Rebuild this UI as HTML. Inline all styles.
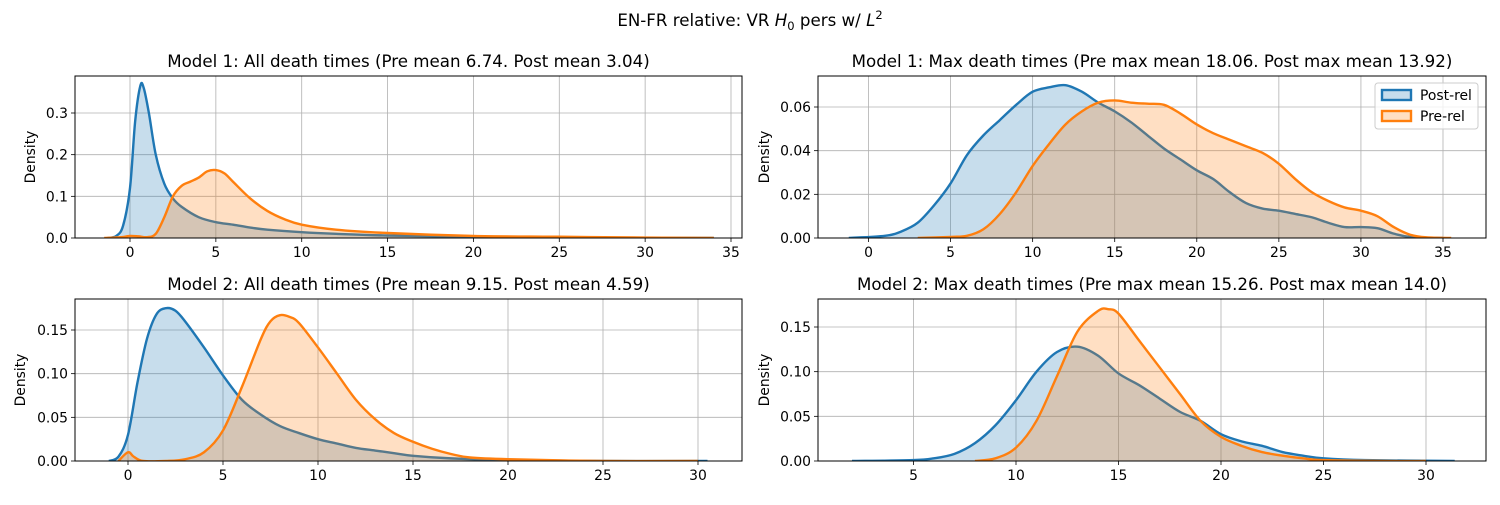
<!DOCTYPE html>
<html><head><meta charset="utf-8"><style>
body{margin:0;background:#fff;}
svg text{font-family:"DejaVu Sans","Liberation Sans",sans-serif;fill:#000;}
</style></head><body>
<svg id="fig" width="1500" height="500" xmlns="http://www.w3.org/2000/svg">
<rect width="1500" height="500" fill="#fff"/>
<text x="750" y="26" font-size="16.67" text-anchor="middle">EN-FR relative: VR <tspan font-style="italic">H</tspan><tspan font-size="11.5" dy="4">0</tspan><tspan dy="-4"> pers w/ </tspan><tspan font-style="italic">L</tspan><tspan font-size="11.5" dy="-7">2</tspan></text>
</svg>
<script>
// Panel 1: Model 1 all death times
const p1PostX=[-1.3,-0.8,-0.4,0,0.3,0.6,0.8,1.1,1.5,2,2.5,3,4,5,6,7,8,10,12,15,20,25,34];
const p1PostY=[0,0.005,0.03,0.12,0.28,0.365,0.36,0.3,0.2,0.13,0.095,0.075,0.05,0.038,0.032,0.025,0.02,0.014,0.01,0.006,0.003,0.001,0];
const p1PreX=[-1.5,-0.5,0,0.5,1,1.5,2,2.5,3,3.5,4,4.5,5,5.5,6,7,8,9,10,12,15,20,25,30,34];
const p1PreY=[0,0.002,0.005,0.004,0.002,0.01,0.05,0.1,0.125,0.135,0.145,0.16,0.163,0.155,0.135,0.095,0.065,0.045,0.032,0.02,0.012,0.005,0.003,0.001,0];
// Panel 2: Model 1 max death times
const p2PostX=[-1.2,1,2,3,4,5,6,7,8,9,10,11,12,13,14,15,16,17,18,19,20,21,22,23,24,25,26,27,28,29,30,31,32,33,35];
const p2PostY=[0,0.001,0.003,0.007,0.015,0.025,0.038,0.047,0.054,0.061,0.067,0.069,0.07,0.067,0.062,0.058,0.053,0.047,0.041,0.036,0.031,0.027,0.021,0.016,0.0135,0.0125,0.011,0.0095,0.007,0.005,0.005,0.0045,0.002,0.0005,0];
const p2PreX=[3,5,6,7,8,9,10,11,12,13,14,15,16,17,18,19,20,21,22,23,24,25,26,27,28,29,30,31,32,33,34,35.5];
const p2PreY=[0,0.0005,0.001,0.004,0.011,0.021,0.033,0.043,0.052,0.058,0.062,0.063,0.062,0.0615,0.061,0.057,0.052,0.048,0.045,0.042,0.039,0.034,0.027,0.021,0.017,0.014,0.0125,0.01,0.005,0.0015,0.0003,0];
// Panel 3: Model 2 all death times
const p3PostX=[-1,-0.5,0,0.5,1,1.5,2,2.5,3,4,5,6,7,8,9,10,11,12,13,14,15,17,20,25,30.5];
const p3PostY=[0,0.005,0.03,0.09,0.14,0.168,0.175,0.172,0.16,0.13,0.098,0.07,0.053,0.04,0.032,0.025,0.02,0.015,0.012,0.009,0.006,0.003,0.001,0,0];
const p3PreX=[-0.5,0,0.3,0.8,2,3,4,5,6,7,7.5,8,8.5,9,10,11,12,13,14,15,16,17,18,20,25,30];
const p3PreY=[0,0.01,0.005,0,0,0.002,0.01,0.035,0.085,0.14,0.16,0.167,0.165,0.158,0.13,0.1,0.07,0.048,0.032,0.022,0.014,0.008,0.004,0.002,0,0];
// Panel 4: Model 2 max death times
const p4PostX=[2,5,6,7,8,9,10,11,12,13,14,15,16,17,18,19,20,21,22,23,24,25,27,31.4];
const p4PostY=[0,0.001,0.003,0.008,0.02,0.04,0.068,0.1,0.122,0.128,0.118,0.098,0.085,0.07,0.055,0.045,0.03,0.022,0.017,0.01,0.006,0.003,0.001,0];
const p4PreX=[8,9,10,11,12,13,14,14.5,15,16,17,18,19,20,21,22,23,24,25,28,30];
const p4PreY=[0,0.003,0.015,0.045,0.095,0.145,0.168,0.17,0.165,0.135,0.105,0.075,0.045,0.027,0.017,0.01,0.006,0.003,0.001,0,0];

const p1XTicks=[0,5,10,15,20,25,30,35], p1YTicks=[0,0.1,0.2,0.3], p1YLabels=["0.0","0.1","0.2","0.3"];
const p2XTicks=[0,5,10,15,20,25,30,35], p2YTicks=[0,0.02,0.04,0.06], p2YLabels=["0.00","0.02","0.04","0.06"];
const p3XTicks=[0,5,10,15,20,25,30], p3YTicks=[0,0.05,0.1,0.15], p3YLabels=["0.00","0.05","0.10","0.15"];
const p4XTicks=[5,10,15,20,25,30], p4YTicks=[0,0.05,0.1,0.15], p4YLabels=["0.00","0.05","0.10","0.15"];

const NS="http://www.w3.org/2000/svg";
const svg=document.getElementById('fig');
function mk(tag,attrs,parent){const e=document.createElementNS(NS,tag);for(const k in attrs)e.setAttribute(k,attrs[k]);(parent||svg).appendChild(e);return e;}
function crPath(pts){let d=`M${pts[0][0]},${pts[0][1]}`;for(let i=0;i<pts.length-1;i++){const p0=pts[Math.max(0,i-1)],p1=pts[i],p2=pts[i+1],p3=pts[Math.min(pts.length-1,i+2)];
const c1=[p1[0]+(p2[0]-p0[0])/6,p1[1]+(p2[1]-p0[1])/6],c2=[p2[0]-(p3[0]-p1[0])/6,p2[1]-(p3[1]-p1[1])/6];
d+=` C${c1[0]},${c1[1]} ${c2[0]},${c2[1]} ${p2[0]},${p2[1]}`;}return d;}

function panel(o){
  const g=mk('g',{});
  
  
  const X=v=>o.x0px+(v-o.x0v)*(o.x1px-o.x0px)/(o.x1v-o.x0v);
  const Y=v=>o.bottom-v*(o.bottom-o.ytop)/o.yvtop;
  const L=o.left,R=o.right,T=o.top,B=o.bottom;
  const grid=mk('g',{},g);
  
  
  o.xt.forEach(v=>{mk('line',{x1:X(v),x2:X(v),y1:T,y2:B,stroke:'#b0b0b0','stroke-width':0.8},grid);
    const t=mk('text',{x:X(v),y:B+19,'font-size':13.9,'text-anchor':'middle'},g);t.textContent=v;
    
    
    mk('line',{x1:X(v),x2:X(v),y1:B,y2:B+4,stroke:'#000','stroke-width':0.8},g);});
  o.yt.forEach((v,i)=>{mk('line',{x1:L,x2:R,y1:Y(v),y2:Y(v),stroke:'#b0b0b0','stroke-width':0.8},grid);
    const t=mk('text',{x:L-7,y:Y(v)+5,'font-size':13.9,'text-anchor':'end'},g);t.textContent=o.yl[i];
    
    
    mk('line',{x1:L-4,x2:L,y1:Y(v),y2:Y(v),stroke:'#000','stroke-width':0.8},g);});
  const cp='clip'+o.name;
  const defs=mk('defs',{},g);mk('rect',{x:L,y:T,width:R-L,height:B-T},mk('clipPath',{id:cp},defs));
  const series=[[o.postX,o.postY,'#1f77b4','post-rel'],[o.preX,o.preY,'#ff7f0e','pre-rel']];
  series.forEach(([xs,ys,c,n])=>{
    const pts=xs.map((x,i)=>[X(x),Y(ys[i])]);
    const d=crPath(pts);
    const f=mk('path',{d:d+` L${pts[pts.length-1][0]},${Y(0)} L${pts[0][0]},${Y(0)} Z`,fill:c,'fill-opacity':0.25,'clip-path':`url(#${cp})`},g);
    
    
    const l=mk('path',{d:d,fill:'none',stroke:c,'stroke-width':2.4,'clip-path':`url(#${cp})`},g);
    
    
  });
  mk('rect',{x:L,y:T,width:R-L,height:B-T,fill:'none',stroke:'#000','stroke-width':1},g);
  const tt=mk('text',{x:(L+R)/2,y:T-9,'font-size':16.67,'text-anchor':'middle'},g);tt.textContent=o.title;
  
  
  const yl=mk('text',{x:0,y:0,'font-size':13.9,'text-anchor':'middle',transform:`translate(${o.ylx},${(T+B)/2}) rotate(-90)`},g);yl.textContent='Density';
  
  
}
panel({name:'model1-all',left:75,right:742,top:76,bottom:238,ytop:113,yvtop:0.3,x0v:0,x0px:130,x1v:35,x1px:731,xt:p1XTicks,yt:p1YTicks,yl:p1YLabels,postX:p1PostX,postY:p1PostY,preX:p1PreX,preY:p1PreY,title:'Model 1: All death times (Pre mean 6.74. Post mean 3.04)',ylx:35});
panel({name:'model1-max',left:818,right:1486,top:76,bottom:238,ytop:107,yvtop:0.06,x0v:0,x0px:868.5,x1v:35,x1px:1443,xt:p2XTicks,yt:p2YTicks,yl:p2YLabels,postX:p2PostX,postY:p2PostY,preX:p2PreX,preY:p2PreY,title:'Model 1: Max death times (Pre max mean 18.06. Post max mean 13.92)',ylx:769});
panel({name:'model2-all',left:75,right:742,top:299,bottom:461,ytop:330,yvtop:0.15,x0v:0,x0px:128,x1v:30,x1px:698,xt:p3XTicks,yt:p3YTicks,yl:p3YLabels,postX:p3PostX,postY:p3PostY,preX:p3PreX,preY:p3PreY,title:'Model 2: All death times (Pre mean 9.15. Post mean 4.59)',ylx:25});
panel({name:'model2-max',left:818,right:1486,top:299,bottom:461,ytop:327,yvtop:0.15,x0v:5,x0px:913.5,x1v:30,x1px:1426,xt:p4XTicks,yt:p4YTicks,yl:p4YLabels,postX:p4PostX,postY:p4PostY,preX:p4PreX,preY:p4PreY,title:'Model 2: Max death times (Pre max mean 15.26. Post max mean 14.0)',ylx:769});

// legend
const lg=mk('g',{});


mk('rect',{x:1375,y:83,width:103,height:46,rx:3,fill:'#fff','fill-opacity':0.8,stroke:'#ccc'},lg);
[['Post-rel','#1f77b4',95],['Pre-rel','#ff7f0e',116]].forEach(([t,c,y])=>{
  const e=mk('g',{},lg);
  
  
  mk('rect',{x:1382,y:y-5,width:29,height:10,fill:c,'fill-opacity':0.25,stroke:c,'stroke-width':2.4},e);
  const tx=mk('text',{x:1420,y:y+5,'font-size':13.9},e);tx.textContent=t;
});
</script>
</body></html>
